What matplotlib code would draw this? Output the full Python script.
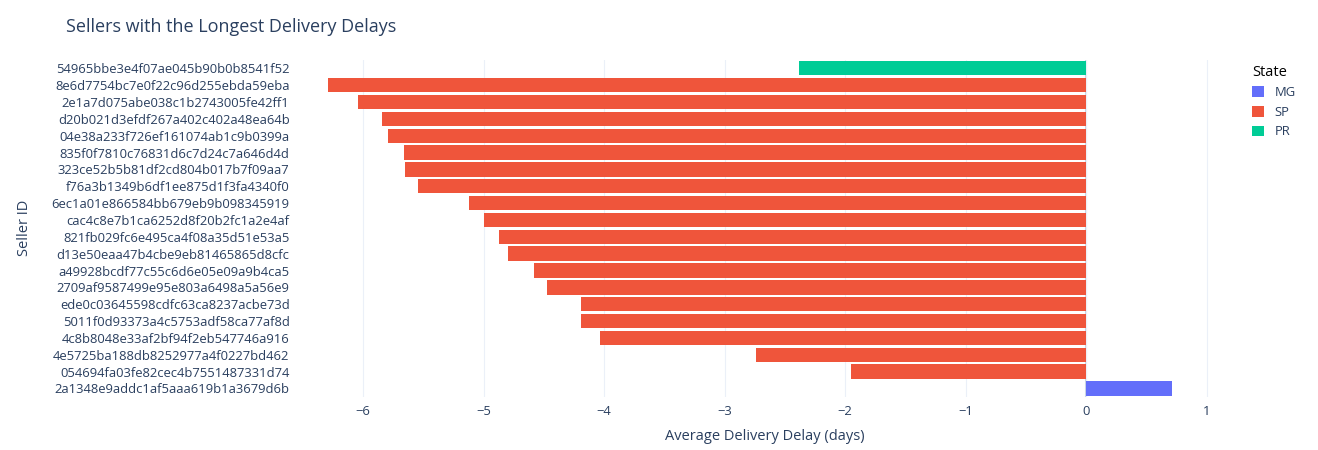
import numpy as np
import pandas as pd

import matplotlib.pyplot as plt

plt.rcParams['font.family'] = ['Open Sans', 'DejaVu Sans']

def plot_bars():

    df_delay = pd.DataFrame({
        'seller_id': ['54965bbe3e4f07ae045b90b0b8541f52', '8e6d7754bc7e0f22c96d255ebda59eba',
                      '2e1a7d075abe038c1b2743005fe42ff1', 'd20b021d3efdf267a402c402a48ea64b',
                      '04e38a233f726ef161074ab1c9b0399a', '835f0f7810c76831d6c7d24c7a646d4d',
                      '323ce52b5b81df2cd804b017b7f09aa7', 'f76a3b1349b6df1ee875d1f3fa4340f0',
                      '6ec1a01e866584bb679eb9b098345919', 'cac4c8e7b1ca6252d8f20b2fc1a2e4af',
                      '821fb029fc6e495ca4f08a35d51e53a5', 'd13e50eaa47b4cbe9eb81465865d8cfc',
                      'a49928bcdf77c55c6d6e05e09a9b4ca5', '2709af9587499e95e803a6498a5a56e9',
                      'ede0c03645598cdfc63ca8237acbe73d', '5011f0d93373a4c5753adf58ca77af8d',
                      '4c8b8048e33af2bf94f2eb547746a916', '4e5725ba188db8252977a4f0227bd462',
                      '054694fa03fe82cec4b7551487331d74', '2a1348e9addc1af5aaa619b1a3679d6b'],
        'delay': [-2.38, -6.29, -6.04, -5.84, -5.79, -5.66, -5.65, -5.54, -5.12, -5.00,
                  -4.87, -4.80, -4.58, -4.47, -4.19, -4.19, -4.03, -2.74, -1.95, 0.71],
        'state': ['PR'] + ['SP'] * 18 + ['MG'],
    })

    fig = plt.figure(figsize=(13.18, 4.5), dpi=100)
    ax = fig.add_axes([0.226, 0.118, 0.708, 0.749])
    palette = {'MG': '#636efa', 'SP': '#ef553b', 'PR': '#00cc96'}

    y_pos = np.arange(len(df_delay))[::-1]
    for state in ['MG', 'SP', 'PR']:
        b_is_state = df_delay.state == state
        ax.barh(y_pos[b_is_state.values], df_delay.delay[b_is_state], height=0.85,
                color=palette[state], label=state, zorder=3)

    ax.set_yticks(y_pos)
    ax.set_yticklabels(df_delay.seller_id, fontsize=9.4, color='#2a3f5f')
    ax.set_ylim(-0.5, len(df_delay) - 0.5)
    ax.set_xlim(-6.54, 1.2)
    ax.set_xticks([-6, -5, -4, -3, -2, -1, 0, 1])
    ax.set_xticklabels(['\u22126', '\u22125', '\u22124', '\u22123', '\u22122', '\u22121', '0', '1'],
                       fontsize=9.4, color='#2a3f5f')
    ax.grid(axis='x', color='#ebf0f8', zorder=0)
    ax.axvline(0, color='#c8d4e3', lw=1.5, zorder=1)
    ax.tick_params(length=0, pad=6)
    for side in ax.spines.values():
        side.set_visible(False)

    ax.set_xlabel('Average Delivery Delay (days)', fontsize=10.5, color='#2a3f5f', labelpad=8)
    ax.set_ylabel('Seller ID', fontsize=10.5, color='#2a3f5f')
    ax.yaxis.set_label_coords(-0.285, 0.5)
    fig.text(0.05, 0.93, 'Sellers with the Longest Delivery Delays', fontsize=13, color='#2a3f5f')

    ax.legend(title='State', loc='upper left', bbox_to_anchor=(1.01, 1.02), frameon=False,
              fontsize=9.4, title_fontsize=10.5, labelcolor='#2a3f5f', handlelength=0.9,
              handleheight=0.9, alignment='left')

    fig.savefig('out.png')

if __name__ == "__main__":
    plot_bars()
